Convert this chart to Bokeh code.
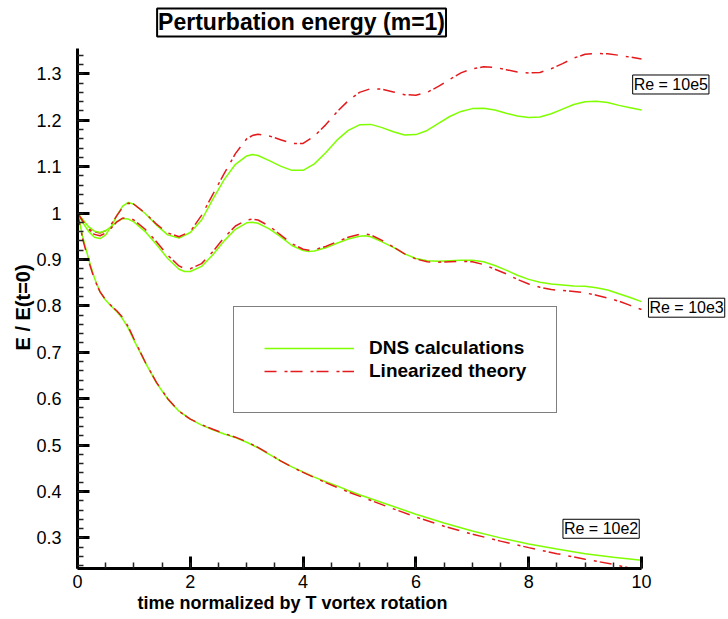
from bokeh.plotting import figure
from bokeh.models import (Range1d, SingleIntervalTicker, CustomJSTickFormatter,
                          Label, Legend, LegendItem, Title)
from bokeh.embed import file_html
from bokeh.resources import INLINE

# ---------------- data ----------------
t_re5 = [0, 0.1, 0.2, 0.3, 0.4, 0.5, 0.6, 0.7, 0.8, 0.9, 1.0,
         1.2, 1.4, 1.6, 1.8, 2.0, 2.2, 2.4, 2.6, 2.8, 3.0, 3.1,
         3.2, 3.4, 3.6, 3.8, 4.0, 4.2, 4.4, 4.6, 4.8, 5.0, 5.2, 5.4, 5.6, 5.8,
         6.0, 6.2, 6.4, 6.6, 6.8, 7.0, 7.2, 7.4, 7.6, 7.8, 8.0, 8.2, 8.4, 8.6,
         8.8, 9.0, 9.2, 9.4, 9.6, 9.8, 10.0]
dns_re5 = [1.000, 0.978, 0.960, 0.948, 0.945, 0.953, 0.972, 0.995, 1.015, 1.023, 1.019,
           0.999, 0.974, 0.953, 0.946, 0.958, 0.985, 1.030, 1.072, 1.105, 1.123, 1.126,
           1.124, 1.113, 1.101, 1.092, 1.092, 1.106, 1.130, 1.157, 1.178, 1.190, 1.191,
           1.184, 1.175, 1.168, 1.169, 1.178, 1.193, 1.208, 1.219, 1.225, 1.226, 1.222,
           1.215, 1.209, 1.206, 1.207, 1.214, 1.224, 1.234, 1.240, 1.241, 1.238, 1.232,
           1.227, 1.222]
lin_re5 = [1.000, 0.982, 0.968, 0.960, 0.957, 0.962, 0.976, 0.995, 1.012, 1.021, 1.019,
           1.000, 0.976, 0.957, 0.949, 0.960, 0.995, 1.040, 1.085, 1.128, 1.160, 1.167,
           1.170, 1.166, 1.158, 1.150, 1.150, 1.166, 1.190, 1.218, 1.242, 1.260, 1.268,
           1.267, 1.261, 1.255, 1.254, 1.260, 1.273, 1.288, 1.302, 1.311, 1.315, 1.314,
           1.309, 1.304, 1.302, 1.303, 1.311, 1.322, 1.334, 1.342, 1.344, 1.343, 1.340,
           1.336, 1.332]

t_re3 = [0, 0.1, 0.2, 0.3, 0.4, 0.5, 0.6, 0.7, 0.8, 0.9, 1.0,
         1.2, 1.4, 1.6, 1.8, 1.9, 2.0,
         2.2, 2.4, 2.6, 2.8, 3.0, 3.1,
         3.2, 3.4, 3.6, 3.8, 4.0, 4.1, 4.2, 4.4, 4.6, 4.8, 5.0, 5.1, 5.2,
         5.4, 5.6, 5.8, 6.0, 6.2, 6.4, 6.6, 6.8, 7.0, 7.2, 7.4, 7.6, 7.8, 8.0,
         8.2, 8.4, 8.6, 8.8, 9.0, 9.2, 9.4, 9.6, 9.8, 10.0]
dns_re3 = [1.000, 0.985, 0.970, 0.961, 0.958, 0.962, 0.971, 0.982, 0.988, 0.987, 0.981,
           0.960, 0.932, 0.902, 0.879, 0.874, 0.874,
           0.885, 0.910, 0.940, 0.965, 0.979, 0.980,
           0.978, 0.966, 0.949, 0.930, 0.919, 0.917, 0.918, 0.925, 0.935, 0.944, 0.950,
           0.951, 0.949,
           0.938, 0.926, 0.912, 0.902, 0.897, 0.896, 0.897, 0.898, 0.898, 0.895, 0.887,
           0.877, 0.866, 0.857, 0.851, 0.847, 0.845, 0.843, 0.842, 0.839, 0.834, 0.826,
           0.818, 0.809]
lin_re3 = [1.000, 0.982, 0.965, 0.954, 0.951, 0.957, 0.968, 0.981, 0.989, 0.990, 0.985,
           0.965, 0.938, 0.909, 0.886, 0.880, 0.880,
           0.891, 0.917, 0.947, 0.972, 0.985, 0.987,
           0.985, 0.972, 0.953, 0.934, 0.922, 0.920, 0.921, 0.928, 0.938, 0.948, 0.954,
           0.955, 0.953,
           0.941, 0.927, 0.912, 0.901, 0.895, 0.894, 0.895, 0.896, 0.895, 0.889, 0.879,
           0.869, 0.857, 0.847, 0.840, 0.835, 0.833, 0.831, 0.828, 0.823, 0.817, 0.810,
           0.801, 0.792]

t_re2 = [0, 0.1, 0.2, 0.3, 0.4, 0.5, 0.6, 0.7, 0.8, 0.9, 1.0,
         1.2, 1.4, 1.6, 1.8, 2.0, 2.2, 2.4, 2.6, 2.8, 3.0, 3.2, 3.4, 3.6, 3.8,
         4.0, 4.2, 4.4, 4.6, 4.8, 5.0,
         5.5, 6.0, 6.5, 7.0, 7.5, 8.0, 8.5, 9.0, 9.5, 10.0]
dns_re2 = [1.000, 0.945, 0.900, 0.860, 0.830, 0.812, 0.799, 0.787, 0.772, 0.752, 0.726,
           0.678, 0.634, 0.599, 0.573, 0.556, 0.543, 0.533, 0.524, 0.516, 0.506, 0.494,
           0.480, 0.466, 0.453, 0.442, 0.431, 0.421, 0.412, 0.402, 0.393,
           0.372, 0.351, 0.332, 0.315, 0.300, 0.287, 0.276, 0.266, 0.258, 0.252]
lin_re2 = [1.000, 0.940, 0.895, 0.857, 0.830, 0.813, 0.800, 0.789, 0.775, 0.755, 0.729,
           0.679, 0.635, 0.600, 0.573, 0.556, 0.544, 0.534, 0.525, 0.517, 0.507, 0.495,
           0.481, 0.466, 0.453, 0.441, 0.430, 0.419, 0.409, 0.399, 0.390,
           0.367, 0.345, 0.325, 0.308, 0.293, 0.279, 0.266, 0.254, 0.243, 0.229]

series_labels = ["DNS calculations", "Linearized theory"]
re_labels = ["Re = 10e5", "Re = 10e3", "Re = 10e2"]
title_text = "Perturbation energy (m=1)"
x_title = "time normalized by T vortex rotation"
y_title = "E / E(t=0)"

# ---------------- styling ----------------
FONT = "Liberation Sans"
GREEN = "#7fff00"
RED = "#e41a1c"
DASH = "12 8 3 3"

p = figure(width=728, height=619, output_backend="svg", toolbar_location=None,
           x_range=Range1d(0, 11.543), y_range=Range1d(0.234, 1.458),
           min_border_left=77, min_border_right=0, min_border_top=0,
           min_border_bottom=51)
p.outline_line_color = None
p.grid.visible = False
p.background_fill_color = "white"
p.border_fill_color = "white"

g5 = p.line(t_re5, dns_re5, line_color=GREEN, line_width=1.5)
r5 = p.line(t_re5, lin_re5, line_color=RED, line_width=1.5, line_dash=DASH)
p.line(t_re3, dns_re3, line_color=GREEN, line_width=1.5)
p.line(t_re3, lin_re3, line_color=RED, line_width=1.5, line_dash=DASH)
p.line(t_re2, dns_re2, line_color=GREEN, line_width=1.5)
p.line(t_re2, lin_re2, line_color=RED, line_width=1.5, line_dash=DASH)

for ax, interval, nminor, bounds in ((p.xaxis[0], 2, 4, (0, 10)),
                                     (p.yaxis[0], 0.1, 5, (0.234, 1.355))):
    ax.bounds = bounds
    ax.ticker = SingleIntervalTicker(interval=interval, num_minor_ticks=nminor)
    ax.axis_line_width = 3
    ax.axis_line_color = "black"
    ax.major_tick_in = 12
    ax.major_tick_out = 0
    ax.minor_tick_in = 6
    ax.minor_tick_out = 0
    ax.major_tick_line_width = 3
    ax.major_tick_line_color = "black"
    ax.minor_tick_line_width = 1.5
    ax.minor_tick_line_color = "#222222"
    ax.major_label_text_font = FONT
    ax.major_label_text_font_size = "18px"
    ax.major_label_text_color = "black"

p.xaxis[0].major_label_standoff = 6
p.yaxis[0].major_label_standoff = 16
p.yaxis[0].formatter = CustomJSTickFormatter(
    code="return Number(tick.toFixed(2)).toString();")

# axis titles as side-panel titles (placed like the reference, not centred)
p.add_layout(Title(text=x_title, align="left", offset=60, standoff=0,
                   text_font=FONT, text_font_style="bold", text_font_size="18px",
                   text_color="black", vertical_align="bottom"), "below")
p.add_layout(Title(text=y_title, align="left", offset=218, standoff=0,
                   text_font=FONT, text_font_style="bold", text_font_size="20px",
                   text_color="black", vertical_align="bottom"), "left")

# title box
p.add_layout(Label(x=3.973, y=1.4107, text=title_text, text_align="center",
                   text_baseline="middle", text_font=FONT, text_font_style="bold",
                   text_font_size="23px", text_color="black",
                   border_line_color="black", border_line_width=2,
                   background_fill_color="white", padding=1))

# Re labels
for (lx, ly), txt in zip([(10.52, 1.277), (10.80, 0.796), (9.284, 0.3196)], re_labels):
    p.add_layout(Label(x=lx, y=ly, text=txt, text_align="center",
                       text_baseline="middle", text_font=FONT,
                       text_font_size="16px", text_color="black",
                       border_line_color="black", border_line_width=1,
                       background_fill_color="white", padding=1))

legend = Legend(items=[LegendItem(label=series_labels[0], renderers=[g5]),
                       LegendItem(label=series_labels[1], renderers=[r5])],
                location=(156, 155), padding=30, spacing=1, glyph_width=90,
                glyph_height=22, label_height=22, label_standoff=15,
                label_text_font=FONT, label_text_font_style="bold",
                label_text_font_size="19px", label_text_color="black",
                border_line_color="black", border_line_width=1.5,
                background_fill_color="white", background_fill_alpha=1.0,
                margin=0)
p.add_layout(legend)

open("out.html", "w").write(file_html(p, INLINE))
